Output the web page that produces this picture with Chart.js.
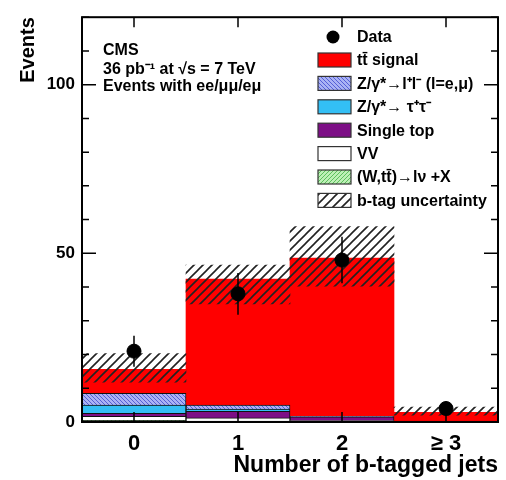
<!DOCTYPE html>
<html>
<head>
<meta charset="utf-8">
<script src="https://cdn.jsdelivr.net/npm/chart.js@4.4.0/dist/chart.umd.min.js"></script>
<style>
html, body { margin: 0; padding: 0; background: #fff; }
</style>
</head>
<body>
<canvas id="jets-chart" width="506" height="480"></canvas>
<script>
// Bins and stacked backgrounds (events per bin)
const bins = ['0', '1', '2', '\u2265 3'];
const wlvX = [0.5, 0.3, 0.1, 0.0];
const vv = [1.2, 0.9, 0.3, 0.0];
const singleTop = [0.9, 2.0, 1.1, 0.3];
const zTauTau = [2.4, 0.6, 0.1, 0.0];
const zLL = [3.5, 1.2, 0.1, 0.0];
const ttSignal = [7.1, 37.4, 46.9, 2.6];

// b-tag uncertainty band
const bTagLo = [11.8, 35.0, 40.3, 2.0];
const bTagHi = [20.3, 46.5, 57.9, 4.4];

// Data with errors
const dataEvents = [21, 38, 48, 4];
const dataErr = [4.6, 6.2, 6.9, 2.0];

const yMajor = [0, 50, 100];

const FONT = '"Liberation Sans", Arial, Helvetica, sans-serif';

// Hatch fill pattern
function hatch(bg, fg, size, lw, back) {
    const c = document.createElement('canvas');
    c.width = size;
    c.height = size;
    const g = c.getContext('2d');
    if (bg) {
        g.fillStyle = bg;
        g.fillRect(0, 0, size, size);
    }
    g.strokeStyle = fg;
    g.lineWidth = lw;
    g.beginPath();
    if (back) {
        g.moveTo(-1, -1); g.lineTo(size + 1, size + 1);
        g.moveTo(size - 1, -1); g.lineTo(size + 1, 1);
        g.moveTo(-1, size - 1); g.lineTo(1, size + 1);
    } else {
        g.moveTo(-1, size + 1); g.lineTo(size + 1, -1);
        g.moveTo(-1, 1); g.lineTo(1, -1);
        g.moveTo(size - 1, size + 1); g.lineTo(size + 1, size - 1);
    }
    g.stroke();
    return document.createElement('canvas').getContext('2d').createPattern(c, 'repeat');
}

const zllFill = hatch('#aab2f4', '#5560d6', 4, 1, true);
const wlvFill = hatch('#bdf0b6', '#5cbf5c', 4, 1, false);
const bTagFill = hatch(null, '#222', 9, 1.6, false);

const legendItems = [
    { label: 'tt\u0304 signal', fill: '#ff0000' },
    { label: 'Z/\u03b3*\u2192l\u207al\u207b (l=e,\u03bc)', fill: zllFill },
    { label: 'Z/\u03b3*\u2192 \u03c4\u207a\u03c4\u207b', fill: '#33bff5' },
    { label: 'Single top', fill: '#7d0f86' },
    { label: 'VV', fill: '#ffffff' },
    { label: '(W,tt\u0304)\u2192l\u03bd +X', fill: wlvFill },
    { label: 'b-tag uncertainty', fill: bTagFill },
];

const decorations = {
    id: 'decorations',
    afterDatasetsDraw(chart) {
        const { ctx, chartArea: a, scales: { x, y } } = chart;
        ctx.save();
        // error bars
        ctx.strokeStyle = '#000';
        ctx.lineWidth = 1.5;
        dataEvents.forEach((v, i) => {
            const px = x.getPixelForValue(i);
            ctx.beginPath();
            ctx.moveTo(px, y.getPixelForValue(v - dataErr[i]));
            ctx.lineTo(px, y.getPixelForValue(v + dataErr[i]));
            ctx.stroke();
        });
        ctx.restore();
    },
    afterDraw(chart) {
        const { ctx, chartArea: a, scales: { x, y } } = chart;
        ctx.save();
        ctx.strokeStyle = '#000';
        ctx.lineWidth = 1.5;
        // inner ticks
        ctx.beginPath();
        for (let v = 0; v <= 120; v += 10) {
            const py = y.getPixelForValue(v);
            const len = yMajor.includes(v) ? 14 : 7;
            ctx.moveTo(a.left, py); ctx.lineTo(a.left + len, py);
            ctx.moveTo(a.right, py); ctx.lineTo(a.right - len, py);
        }
        bins.forEach((b, i) => {
            const px = x.getPixelForValue(i);
            ctx.moveTo(px, a.bottom); ctx.lineTo(px, a.bottom - 10);
            ctx.moveTo(px, a.top); ctx.lineTo(px, a.top + 10);
        });
        ctx.stroke();
        // frame
        ctx.lineWidth = 2;
        ctx.strokeRect(a.left, a.top, a.right - a.left, a.bottom - a.top);

        // CMS label
        ctx.fillStyle = '#000';
        ctx.font = 'bold 16px ' + FONT;
        ctx.textBaseline = 'middle';
        ctx.textAlign = 'left';
        ctx.fillText('CMS', 103, 51);
        ctx.fillText('36 pb\u207b\u00b9 at \u221as = 7 TeV', 103, 70);
        ctx.fillText('Events with ee/\u03bc\u03bc/e\u03bc', 103, 87);

        // legend
        ctx.beginPath();
        ctx.arc(333, 37, 6.5, 0, Math.PI * 2);
        ctx.fill();
        ctx.fillText('Data', 357, 38);
        legendItems.forEach((item, i) => {
            const cy = 60 + i * 23.4;
            ctx.fillStyle = '#fff';
            ctx.fillRect(318, cy - 7, 33, 14);
            ctx.fillStyle = item.fill;
            ctx.fillRect(318, cy - 7, 33, 14);
            ctx.lineWidth = 1.2;
            ctx.strokeStyle = '#333';
            ctx.strokeRect(318, cy - 7, 33, 14);
            ctx.fillStyle = '#000';
            ctx.fillText(item.label, 357, cy + 1);
        });
        ctx.restore();
    }
};

function mcSet(label, data, fill, border) {
    return {
        type: 'bar',
        label: label,
        data: data,
        backgroundColor: fill,
        borderColor: border || '#111',
        borderWidth: border === null ? 0 : 1,
        stack: 'mc',
        order: 2,
    };
}

const ctx = document.getElementById('jets-chart').getContext('2d');
new Chart(ctx, {
    type: 'bar',
    data: {
        labels: bins,
        datasets: [
            mcSet('(W,tt)->lv+X', wlvX, wlvFill),
            mcSet('VV', vv, '#ffffff'),
            mcSet('Single top', singleTop, '#7d0f86'),
            mcSet('Z->tautau', zTauTau, '#33bff5'),
            mcSet('Z->ll', zLL, zllFill),
            mcSet('tt signal', ttSignal, '#ff0000', null),
            {
                type: 'bar',
                label: 'b-tag uncertainty',
                data: bTagLo.map((lo, i) => [lo, bTagHi[i]]),
                backgroundColor: bTagFill,
                borderWidth: 0,
                grouped: false,
                stack: 'unc',
                order: 1,
            },
            {
                type: 'line',
                label: 'Data',
                data: dataEvents,
                showLine: false,
                pointRadius: 7,
                pointBackgroundColor: '#000',
                pointBorderColor: '#000',
                stack: 'data',
                order: 0,
            },
        ],
    },
    options: {
        responsive: false,
        animation: false,
        devicePixelRatio: 1,
        barPercentage: 1,
        categoryPercentage: 1,
        layout: { padding: { top: 13, right: 4, left: 0, bottom: 0 } },
        plugins: { legend: { display: false }, tooltip: { enabled: false } },
        scales: {
            x: {
                type: 'category',
                offset: true,
                grid: { display: false, drawTicks: false },
                border: { display: false },
                ticks: { color: '#000', font: { family: FONT, size: 22, weight: 'bold' }, padding: 9 },
                title: {
                    display: true,
                    text: 'Number of b-tagged jets',
                    align: 'end',
                    color: '#000',
                    font: { family: FONT, size: 23, weight: 'bold' },
                    padding: { top: 0, bottom: 1 },
                },
                afterFit(scale) { scale.height = 58; },
            },
            y: {
                stacked: true,
                min: 0,
                max: 120,
                grid: { display: false, drawTicks: false },
                border: { display: false },
                ticks: {
                    stepSize: 10,
                    autoSkip: false,
                    color: '#000',
                    font: { family: FONT, size: 17, weight: 'bold' },
                    padding: 7,
                    callback: (v) => (yMajor.includes(v) ? v : ''),
                },
                title: {
                    display: true,
                    text: 'Events',
                    align: 'end',
                    color: '#000',
                    font: { family: FONT, size: 20, weight: 'bold' },
                    padding: { top: 16, bottom: 0 },
                },
                afterFit(scale) { scale.width = 82; },
            },
        },
    },
    plugins: [decorations],
});
</script>
</body>
</html>
